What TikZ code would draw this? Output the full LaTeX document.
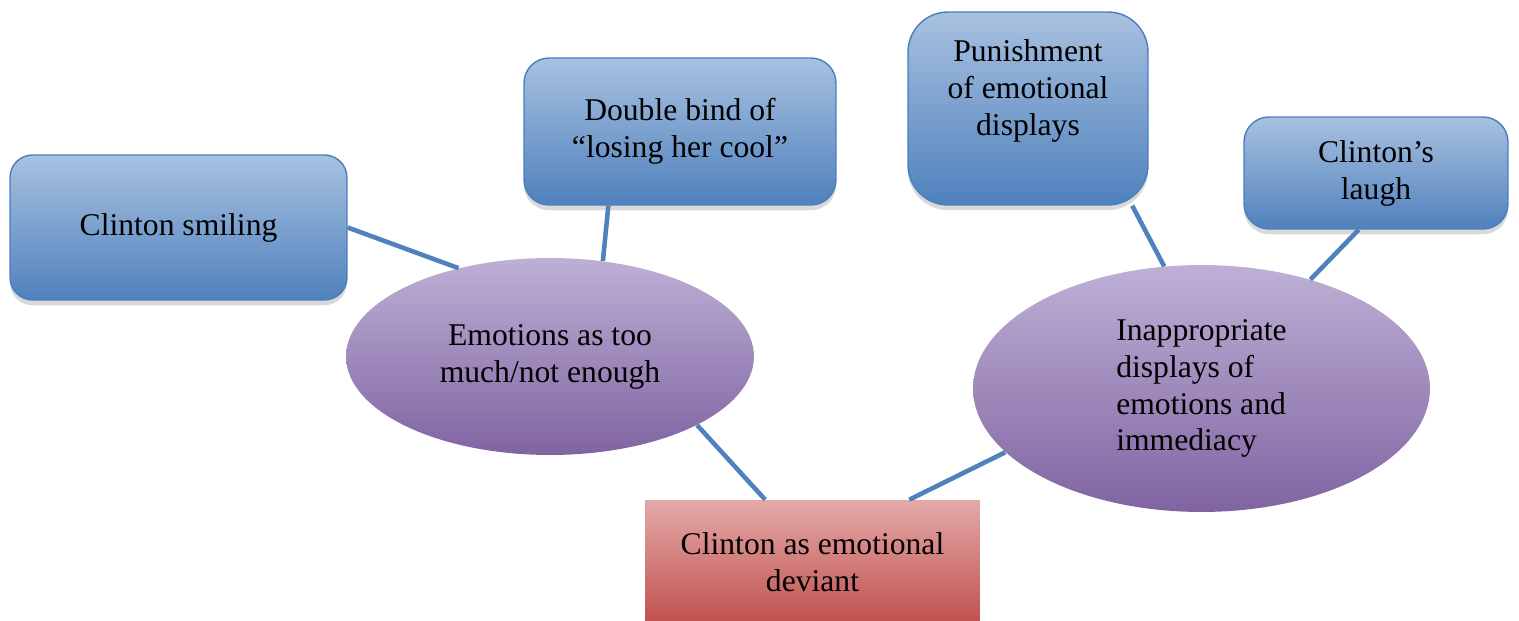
\documentclass[tikz,border=0pt]{standalone}
\usepackage{fontspec}
\setmainfont{Liberation Serif}
\usetikzlibrary{shapes.geometric, shadows}

\definecolor{boxtop}{HTML}{A8C1E0}
\definecolor{boxbot}{HTML}{4F81BD}
\definecolor{boxline}{HTML}{4A7EBB}
\definecolor{ovaltop}{HTML}{BEB0D5}
\definecolor{ovalbot}{HTML}{8064A2}
\definecolor{coretop}{HTML}{E3A9A8}
\definecolor{corebot}{HTML}{C0504D}
\definecolor{linkcol}{HTML}{4F81BD}

\begin{document}
\begin{tikzpicture}[x=0.02cm, y=-0.02cm,
	every node/.style={font=\fontsize{18}{21}\selectfont, align=center, inner sep=0pt},
	topicbox/.style={rectangle, rounded corners=0.5cm, draw=boxline, line width=0.8pt,
		top color=boxtop, bottom color=boxbot,
		drop shadow={opacity=0.3, shadow xshift=0pt, shadow yshift=-3pt}},
	theme/.style={ellipse, top color=ovaltop, bottom color=ovalbot},
	core/.style={rectangle, top color=coretop, bottom color=corebot,
		drop shadow={opacity=0.2, shadow xshift=0pt, shadow yshift=-2pt}},
	link/.style={draw=linkcol, line width=2.6pt}]
	\useasboundingbox (0,0) rectangle (1519,621);

	% themes and the central node
	\node[core, minimum width=6.7cm, minimum height=2.5cm] (dev) at (812.5,562.5) {Clinton as emotional\\deviant};
	\node[theme, minimum width=8.16cm, minimum height=3.94cm] (emo) at (550,356.5) {Emotions as too\\much/not enough};
	\node[theme, minimum width=9.14cm, minimum height=4.94cm, align=left] (inap) at (1201.5,388.5) {Inappropriate\\displays of\\emotions and\\immediacy};

	% examples
	\node[topicbox, minimum width=6.74cm, minimum height=2.9cm, rounded corners=0.45cm] (smile) at (178.5,227.5) {Clinton smiling};
	\node[topicbox, minimum width=6.24cm, minimum height=2.94cm] (bind) at (680,131.5) {Double bind of\\“losing her cool”};
	\node[topicbox, minimum width=4.8cm, minimum height=3.86cm, rounded corners=0.8cm, text depth=0.84cm] (pun) at (1028,108.5) {Punishment\\of emotional\\displays};
	\node[topicbox, minimum width=5.28cm, minimum height=2.24cm] (laugh) at (1376,173) {Clinton’s\\laugh};

	\draw[link] (smile.east) -- (emo.136);
	\draw[link] (bind.226) -- (emo.61);
	\draw[link] (emo.335) -- (dev.127);
	\draw[link] (dev.33) -- (inap.198);
	\draw[link] (pun.317) -- (inap.107);
	\draw[link] (laugh.253) -- (inap.45);
\end{tikzpicture}
\end{document}
